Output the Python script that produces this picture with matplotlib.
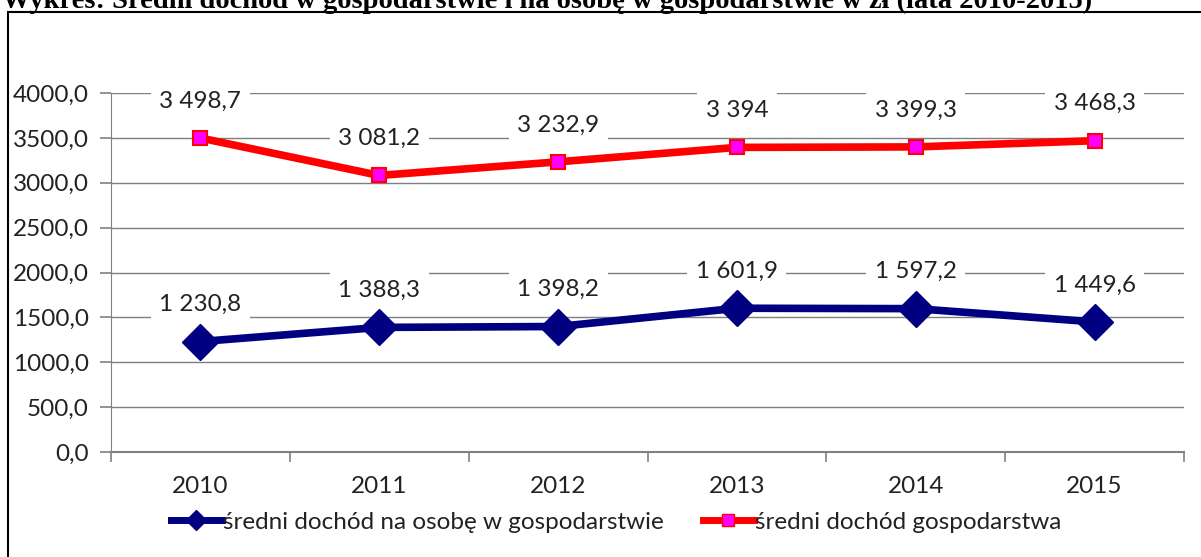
import matplotlib
matplotlib.use("Agg")
import matplotlib.pyplot as plt
from matplotlib.patches import Rectangle
from matplotlib.lines import Line2D

# Data
years = ["2010", "2011", "2012", "2013", "2014", "2015"]
per_person = [1230.8, 1388.3, 1398.2, 1601.9, 1597.2, 1449.6]
household = [3498.7, 3081.2, 3232.9, 3394.0, 3399.3, 3468.3]
label_person = "średni dochód na osobę w gospodarstwie"
label_household = "średni dochód gospodarstwa"
title = "Wykres: Średni dochód w gospodarstwie i na osobę w gospodarstwie w zł (lata 2010-2015)"

plt.rcParams['font.family'] = ['Lato', 'DejaVu Sans']

W, H = 1201, 557
FS = 17.5


def pl_format(v):
    # Polish style: space as thousands separator, comma as decimal mark
    if abs(v - round(v)) < 1e-9:
        s = f"{int(round(v)):,}".replace(",", " ")
    else:
        s = f"{v:,.1f}".replace(",", " ").replace(".", ",")
    return s


fig = plt.figure(figsize=(W / 100, H / 100), dpi=100)
fig.patch.set_facecolor("white")

# outer chart border
fig.patches.append(Rectangle((8 / W, -0.01), 1.02, 1 - 12 / H + 0.01,
                             transform=fig.transFigure, fill=False,
                             edgecolor="black", linewidth=1.5))

fig.text(2 / W, 1 - 8 / H, title, family="Liberation Serif", weight="bold",
         fontsize=20.5, va="baseline", ha="left")

ax = fig.add_axes([111 / W, (H - 452) / H, (1184 - 111) / W, (452 - 93) / H])
xs = [i + 0.5 for i in range(len(years))]

ax.plot(xs, per_person, color="#000080", linewidth=5.5, marker="D",
        markersize=18, markerfacecolor="#000080", markeredgecolor="#000080",
        zorder=4, clip_on=False)
ax.plot(xs, household, color="#FF0000", linewidth=5.5, marker="s",
        markersize=10, markerfacecolor="#FF00FF", markeredgecolor="#FF0000",
        markeredgewidth=1.5, zorder=4, clip_on=False)

for series in (per_person, household):
    for x, v in zip(xs, series):
        ax.annotate(pl_format(v), (x, v), xytext=(0, 37),
                    textcoords="offset pixels", ha="center", va="center",
                    fontsize=FS, color="#222222", zorder=3,
                    bbox=dict(boxstyle="square,pad=0.35", fc="white", ec="none"))

ax.set_xlim(0, len(years))
ax.set_ylim(0, 4000)
ax.set_yticks(range(0, 4001, 500))
ax.set_yticklabels([f"{t:.1f}".replace(".", ",") for t in range(0, 4001, 500)])
ax.set_xticks(range(len(years) + 1))
ax.set_xticklabels([])
ax.set_xticks(xs, minor=True)
ax.set_xticklabels(years, minor=True)
ax.tick_params(axis="x", which="major", direction="out", length=7,
               color="#808080", width=1.2)
ax.tick_params(axis="x", which="minor", length=0, pad=17, labelsize=FS,
               labelcolor="#222222")
ax.tick_params(axis="y", direction="out", length=8, color="#808080",
               width=1.2, pad=8, labelsize=FS, labelcolor="#222222")

ax.grid(axis="y", color="#7f7f7f", linewidth=1, zorder=0)
ax.set_axisbelow(True)
for side in ("top", "right"):
    ax.spines[side].set_visible(False)
ax.spines["left"].set_color("#808080")
ax.spines["bottom"].set_color("#808080")
ax.spines["bottom"].set_linewidth(1.5)

handles = [
    Line2D([], [], color="#000080", linewidth=5, marker="D", markersize=10,
           markerfacecolor="#000080"),
    Line2D([], [], color="#FF0000", linewidth=5, marker="s", markersize=9,
           markerfacecolor="#FF00FF", markeredgecolor="#FF0000"),
]
fig.legend(handles, [label_person, label_household], loc="center",
           bbox_to_anchor=(616 / W, 1 - 522 / H), ncol=2, frameon=False,
           fontsize=FS, handlelength=2.1, handletextpad=0.05,
           columnspacing=1.6, labelcolor="#222222")

fig.savefig("out.png", dpi=100)
